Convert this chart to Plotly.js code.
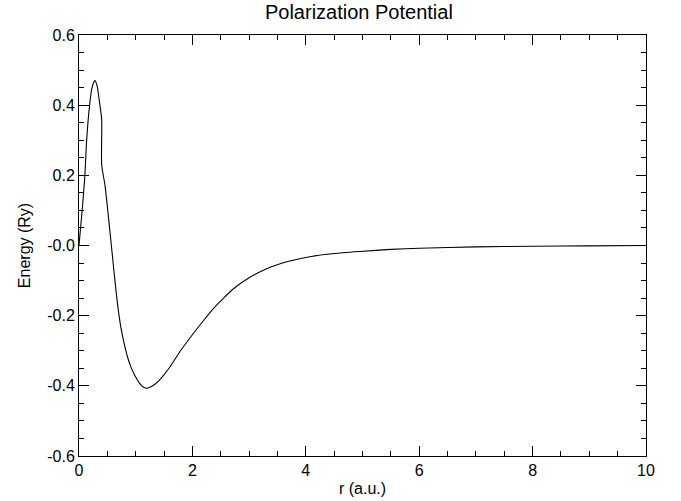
<!DOCTYPE html>
<html>
<head>
<meta charset="utf-8">
<script src="https://cdn.plot.ly/plotly-3.0.1.min.js"></script>
<style>html,body{margin:0;padding:0;background:#fff;}#chart{width:681px;height:501px;}</style>
</head>
<body>
<div id="chart"></div>
<script>
// Radius (a.u.)
var radius = [0.00, 0.05, 0.10, 0.135, 0.19, 0.23, 0.28, 0.32, 0.36, 0.40, 0.40, 0.46, 0.52, 0.58, 0.64, 0.69, 0.74, 0.80, 0.86, 0.92, 0.99, 1.06, 1.12, 1.19, 1.26, 1.35, 1.45, 1.60, 1.80, 2.02, 2.20, 2.37, 2.55, 2.72, 3.00, 3.31, 3.70, 4.07, 4.50, 4.96, 5.50, 6.00, 7.00, 8.00, 9.00, 10.00];
// Energy (Ry)
var energy = [0.00, 0.09, 0.19, 0.30, 0.405, 0.45, 0.47, 0.455, 0.41, 0.36, 0.23, 0.17, 0.08, -0.015, -0.11, -0.18, -0.235, -0.282, -0.32, -0.348, -0.372, -0.391, -0.402, -0.407, -0.403, -0.394, -0.378, -0.347, -0.298, -0.25, -0.213, -0.18, -0.15, -0.124, -0.092, -0.066, -0.045, -0.032, -0.023, -0.017, -0.011, -0.008, -0.004, -0.002, -0.001, 0.000];

var xTickVals = [0, 2, 4, 6, 8, 10];
var xTickText = ['0', '2', '4', '6', '8', '10'];
var yTickVals = [0.6, 0.4, 0.2, 0.0, -0.2, -0.4, -0.6];
var yTickText = ['0.6', '0.4', '0.2', '-0.0', '-0.2', '-0.4', '-0.6'];

var fontFam = 'Liberation Sans, Arial, Helvetica, sans-serif';

var trace = {
  x: radius, y: energy, type: 'scatter', mode: 'lines',
  line: {color: '#000', width: 1.1, shape: 'spline', smoothing: 0.6},
  hoverinfo: 'skip'
};

var layout = {
  width: 681, height: 501,
  margin: {l: 79, r: 35, t: 35, b: 45},
  paper_bgcolor: '#fff', plot_bgcolor: '#fff',
  showlegend: false,
  font: {family: fontFam, color: '#000'},
  title: {text: 'Polarization Potential', font: {size: 20, family: fontFam, color: '#000'}, x: 0.527, xanchor: 'center', y: 0.977, yanchor: 'middle'},
  xaxis: {
    range: [0, 10], showgrid: false, zeroline: false,
    showline: true, linecolor: '#000', linewidth: 1, mirror: 'ticks',
    ticks: 'inside', ticklen: 10, tickwidth: 1, tickcolor: '#000',
    tickvals: xTickVals, ticktext: xTickText,
    tickfont: {size: 16, family: fontFam, color: '#000'},
    minor: {dtick: 0.5, tick0: 0, ticks: 'inside', ticklen: 5, tickwidth: 1, tickcolor: '#000', showgrid: false},
    title: {text: 'r (a.u.)', font: {size: 16, family: fontFam, color: '#000'}, standoff: 4}
  },
  yaxis: {
    range: [-0.6, 0.6], showgrid: false, zeroline: false,
    showline: true, linecolor: '#000', linewidth: 1, mirror: 'ticks',
    ticks: 'inside', ticklen: 10, tickwidth: 1, tickcolor: '#000',
    tickvals: yTickVals, ticktext: yTickText,
    tickfont: {size: 16, family: fontFam, color: '#000'},
    minor: {dtick: 0.05, tick0: 0, ticks: 'inside', ticklen: 5, tickwidth: 1, tickcolor: '#000', showgrid: false},
    title: {text: 'Energy (Ry)', font: {size: 16, family: fontFam, color: '#000'}, standoff: 12}
  }
};

Plotly.newPlot('chart', [trace], layout, {displayModeBar: false, staticPlot: true});
</script>
</body>
</html>
